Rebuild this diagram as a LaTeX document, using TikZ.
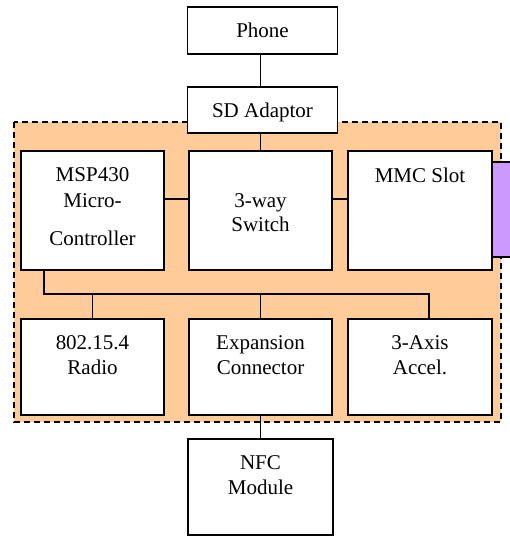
\documentclass[tikz,border=0pt]{standalone}
\usepackage{fontspec}
\setmainfont{Liberation Serif}
\newfontfamily\timesfont{Liberation Serif}
\definecolor{orangebg}{HTML}{FFCC99}
\definecolor{purpletab}{HTML}{CC99FF}
\begin{document}
\begin{tikzpicture}[x=1pt,y=-1pt,
  box/.style={draw=black,fill=white,line width=1.5pt,inner sep=0pt,minimum width=143pt,minimum height=119pt},
  lowbox/.style={box,minimum height=96pt},
  lbl/.style={inner sep=0pt,anchor=base,font=\timesfont\fontsize{21}{25}\selectfont},
  conn/.style={draw=black,line width=1.3pt}]
\useasboundingbox (0,0) rectangle (510,536);
% board region
\path[fill=orangebg,draw=black,line width=1.4pt,dash pattern=on 6pt off 4pt] (14,122) rectangle (501,422);
% purple tab
\path[fill=purpletab,draw=black,line width=1.5pt] (488,162) rectangle (514,257);
% boxes
\node[box,minimum width=150pt,minimum height=47pt] (phone) at (262.5,30.5) {};
\node[box,minimum width=150pt,minimum height=46pt] (sd) at (262.5,110) {};
\node[box] (mcu) at (92.5,210.5) {};
\node[box] (sw) at (260.5,210.5) {};
\node[box,minimum width=144pt] (mmc) at (420,210.5) {};
\node[lowbox] (radio) at (92.5,367) {};
\node[lowbox] (exp) at (260.5,367) {};
\node[lowbox,minimum width=144pt] (acc) at (420,367) {};
\node[lowbox,minimum width=145pt] (nfc) at (260.5,487) {};
% texts
\node[lbl] (t1) at (262.5,37) {Phone};
\node[lbl] (t2) at (262.5,117) {SD Adaptor};
\node[lbl] (t3) at (92.5,181) {MSP430};
\node[lbl] (t4) at (92.5,207) {Micro-};
\node[lbl] (t5) at (92.5,245) {Controller};
\node[lbl] (t6) at (260.5,207) {3-way};
\node[lbl] (t7) at (260.5,231) {Switch};
\node[lbl] (t8) at (420,182) {MMC Slot};
\node[lbl] (t9) at (92.5,349) {802.15.4};
\node[lbl] (t10) at (92.5,374) {Radio};
\node[lbl] (t11) at (260.5,349) {Expansion};
\node[lbl] (t12) at (260.5,374) {Connector};
\node[lbl] (t13) at (420,349) {3-Axis};
\node[lbl] (t14) at (420,374) {Accel.};
\node[lbl] (t15) at (260.5,469) {NFC};
\node[lbl] (t16) at (260.5,494) {Module};
% connectors
\draw[conn] (phone.south -| sw.north) -- (sd.north -| sw.north);
\draw[conn] (sd.south -| sw.north) -- (sw.north);
\draw[conn] ([yshift=11.5pt]mcu.east) -- ([yshift=11.5pt]sw.west);
\draw[conn] ([yshift=11.5pt]sw.east) -- ([yshift=11.5pt]mmc.west);
\coordinate (busL) at (44,294);
\coordinate (busR) at (429,294);
\draw[conn] (mcu.south -| busL) -- (busL) -- (busR) -- (acc.north -| busR);
\draw[conn] (radio.north) -- (radio.north |- busL);
\draw[conn] (exp.north) -- (exp.north |- busL);
\draw[conn] (exp.south) -- (nfc.north);
\end{tikzpicture}
\end{document}
